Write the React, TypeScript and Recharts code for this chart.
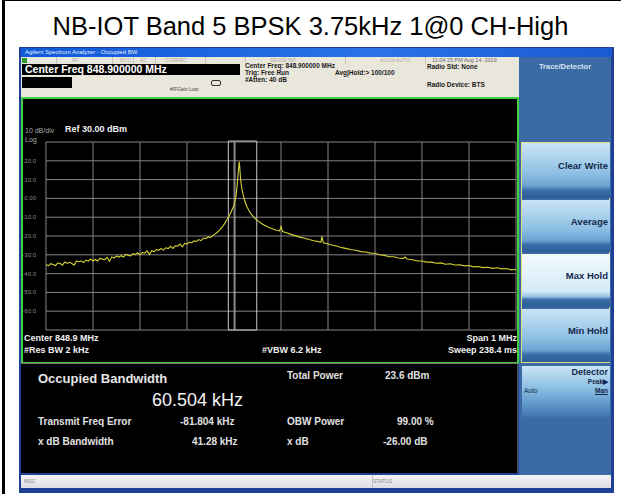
import React from 'react';
import {
  LineChart,
  Line,
  XAxis,
  YAxis,
  CartesianGrid,
  ReferenceArea,
  ReferenceLine,
} from 'recharts';

// Offset from the 848.9 MHz centre frequency, in kHz
const FREQ_KHZ = [
  -500, -495, -490, -485, -480, -475, -470, -465, -460, -455,
  -450, -445, -440, -435, -430, -425, -420, -415, -410, -405,
  -400, -395, -390, -385, -380, -375, -370, -365, -360, -355,
  -350, -345, -340, -335, -330, -325, -320, -315, -310, -305,
  -300, -295, -290, -285, -280, -275, -270, -265, -260, -255,
  -250, -245, -240, -235, -230, -225, -220, -215, -210, -205,
  -200, -195, -190, -185, -180, -175, -170, -165, -160, -155,
  -150, -145, -140, -135, -130, -125, -120, -115, -110, -105,
  -100, -97, -95, -93, -91, -90, -89, -88, -87, -86,
  -85, -83, -80, -77, -73, -68, -62, -55, -48, -40,
  -30, -20, -10, -3, 0, 3, 10, 20, 30, 40,
  50, 60, 70, 80, 85, 87, 90, 95, 100, 110,
  120, 130, 140, 150, 160, 170, 180, 190, 200, 210,
  220, 230, 240, 250, 260, 264, 268, 280, 290, 300,
  310, 320, 330, 340, 350, 360, 370, 380, 390, 400,
  410, 420, 430, 440, 450, 460, 470, 480, 490, 500,
];

// Trace level, dBm
const LEVEL_DBM = [
  -35.1, -35.9, -34.7, -35.2, -35.7, -34.4, -34.7, -35.5, -33.8, -34.6,
  -34.0, -34.6, -35.5, -33.3, -33.7, -33.2, -34.1, -32.8, -33.3, -32.3,
  -33.3, -32.5, -33.3, -31.8, -32.3, -32.6, -31.4, -33.5, -31.1, -31.7,
  -30.6, -31.2, -30.5, -31.2, -29.7, -30.3, -30.6, -29.4, -29.9, -28.9,
  -30.0, -28.8, -29.1, -27.9, -29.8, -27.8, -28.3, -27.2, -27.6, -26.6,
  -27.5, -26.3, -26.7, -25.5, -26.6, -25.2, -25.4, -24.3, -25.8, -23.9,
  -24.3, -23.2, -23.7, -22.6, -22.9, -21.9, -22.5, -21.1, -21.4, -20.5,
  -20.8, -19.8, -18.9, -17.9, -16.6, -15.2, -13.4, -11.4, -9.2, -6.6,
  -3.6, -0.6, 2.8, 7.8, 13.6, 16.8, 19.6, 17.2, 13.8, 10.6,
  8.3, 4.8, 1.4, -1.4, -4.2, -6.6, -8.8, -10.7, -12.2, -13.6,
  -14.9, -16.0, -16.9, -17.3, -15.0, -17.6, -18.1, -19.0, -19.8, -20.6,
  -21.2, -21.9, -22.5, -23.0, -23.2, -20.2, -23.6, -23.9, -24.3, -24.9,
  -25.5, -26.2, -26.7, -27.3, -27.6, -28.3, -28.5, -29.1, -29.2, -30.0,
  -30.3, -31.0, -31.0, -31.7, -31.9, -31.2, -32.2, -32.6, -33.3, -33.3,
  -33.9, -33.9, -34.5, -34.3, -35.0, -34.8, -35.4, -35.3, -35.9, -35.7,
  -36.4, -36.2, -36.8, -36.6, -37.2, -36.9, -37.5, -37.3, -38.0, -37.8,
];

const X_TICKS = [-500, -400, -300, -200, -100, 0, 100, 200, 300, 400, 500];
const Y_TICKS = [-70, -60, -50, -40, -30, -20, -10, 0, 10, 20, 30];
const Y_LABELS: Record<number, string> = {
  20: '20.0', 10: '10.0', 0: '0.00', [-10]: '-10.0', [-20]: '-20.0',
  [-30]: '-30.0', [-40]: '-40.0', [-50]: '-50.0', [-60]: '-60.0',
};

// occupied bandwidth box edges and x dB marker, kHz offset
const OBW_LEFT_KHZ = -112.1;
const OBW_RIGHT_KHZ = -51.6;
const XDB_MARK_KHZ = -98;

const TITLE = 'NB-IOT Band 5 BPSK 3.75kHz 1@0 CH-High';
const FONT = '"Liberation Sans", Arial, sans-serif';

const traceData = FREQ_KHZ.map((f, i) => ({ f, dbm: LEVEL_DBM[i] }));

const abs = (left: number, top: number, extra: React.CSSProperties = {}): React.CSSProperties => ({
  position: 'absolute',
  left,
  top,
  whiteSpace: 'nowrap',
  ...extra,
});

function SoftKey({ top, height, label, active }: { top: number; height: number; label: string; active?: boolean }) {
  const bg = active
    ? 'linear-gradient(#f2f9fe 0%, #d6ebf8 70%, #9cc6e6 80%, #3a6ea8 86%, #2b5c95 100%)'
    : 'linear-gradient(#cbe4f5 0%, #8ec0e4 55%, #6aa3d2 78%, #3a6ea8 86%, #2b5c95 100%)';
  return (
    <div style={abs(522, top, { width: 88, height, background: bg })}>
      <div
        style={{
          position: 'absolute',
          right: 2,
          top: height * 0.42 - 6,
          fontSize: 9.5,
          fontWeight: 'bold',
          color: '#13294b',
        }}
      >
        {label}
      </div>
    </div>
  );
}

const YTick = (props: any) => {
  const { x, y, payload } = props;
  const txt = Y_LABELS[payload.value] || '';
  return (
    <text x={x - 2} y={y + 2} textAnchor="end" fontSize={6} fill="#8c8c8c" fontFamily={FONT}>
      {txt}
    </text>
  );
};

const NoTick = () => <g />;

export default function App() {
  return (
    <div style={abs(0, 0, { width: 621, height: 494, background: '#fff', fontFamily: FONT, overflow: 'hidden' })}>
      {/* outer frame */}
      <div style={abs(2, 0, { width: 616, height: 493, borderLeft: '3px solid #000', borderRight: '2px solid #000', borderTop: '1px solid #000' })} />

      <div style={abs(0, 11, { width: 621, textAlign: 'center', fontSize: 25.5, color: '#000', lineHeight: '30px' })}>
        {TITLE}
      </div>

      {/* analyzer screenshot */}
      <div style={abs(19, 47, { width: 595, height: 446, background: '#1d3f95' })} />
      <div style={abs(21, 48, { width: 591, height: 9, background: 'linear-gradient(90deg, #1059d8, #2a72e6 60%, #1a5ad0)' })}>
        <span style={abs(4, 0, { fontSize: 6, color: '#e8f0ff', lineHeight: '9px' })}>
          Agilent Spectrum Analyzer - Occupied BW
        </span>
      </div>

      {/* indicator row and setup info */}
      <div style={abs(21, 57, { width: 498, height: 40, background: '#e9e6dc' })} />
      <div style={abs(22, 58, { width: 5, height: 5, background: '#2d9a2d' })} />
      {[
        ['RF', 72],
        ['50 Ω', 120],
        ['AC', 140],
        ['CORREC', 165],
        ['SENSE:INT', 270],
        ['ALIGN AUTO', 380],
      ].map(([t, x]) => (
        <span key={t as string} style={abs(x as number, 57, { fontSize: 5, color: '#b0aca0', lineHeight: '7px' })}>{t}</span>
      ))}
      {[56, 112, 133, 155, 205, 245, 345, 425].map((x) => (
        <div key={x} style={abs(x, 57, { width: 1, height: 7, background: '#c6c2b6' })} />
      ))}
      <span style={abs(432, 57, { fontSize: 5.5, color: '#6b6a64', lineHeight: '7px' })}>11:04:25 PM Aug 14, 2019</span>

      <div style={abs(22, 64, { width: 218, height: 11, background: '#000' })}>
        <span style={abs(3, -1, { fontSize: 10.5, fontWeight: 'bold', color: '#fff', lineHeight: '13px' })}>
          Center Freq 848.900000 MHz
        </span>
      </div>
      <div style={abs(22, 77, { width: 50, height: 11, background: '#000' })} />
      <span style={abs(170, 86, { fontSize: 5, color: '#444', lineHeight: '7px' })}>#IFGain:Low</span>
      <div style={abs(211, 80, { width: 8, height: 4, border: '1px solid #333', borderRadius: 2 })} />
      <div style={{ ...abs(245, 62, { fontSize: 6.5, fontWeight: 'bold', color: '#1b1b1b', lineHeight: '7px' }) }}>
        Center Freq: 848.900000 MHz
        <br />
        Trig: Free Run
        <br />
        #Atten: 40 dB
      </div>
      <span style={abs(335, 69, { fontSize: 6.5, fontWeight: 'bold', color: '#1b1b1b' })}>Avg|Hold:&gt; 100/100</span>
      <span style={abs(427, 63, { fontSize: 6.5, fontWeight: 'bold', color: '#1b1b1b' })}>Radio Std: None</span>
      <span style={abs(427, 81, { fontSize: 6.5, fontWeight: 'bold', color: '#1b1b1b' })}>Radio Device: BTS</span>

      {/* plot frame */}
      <div style={abs(21, 97, { width: 494, height: 263, background: '#000', border: '2px solid #3fcf3f' })} />
      <span style={abs(25, 127, { fontSize: 7, color: '#a8a8a8' })}>10 dB/div</span>
      <span style={abs(65, 124, { fontSize: 9, fontWeight: 'bold', color: '#f0f0f0' })}>Ref 30.00 dBm</span>
      <span style={abs(25, 136, { fontSize: 7, color: '#a8a8a8' })}>Log</span>

      <div style={abs(22, 137)}>
        <LineChart
          width={496}
          height={194}
          data={traceData}
          margin={{ top: 5, right: 2, bottom: 0, left: 0 }}
        >
          <CartesianGrid stroke="#858585" strokeWidth={1} />
          <XAxis
            type="number"
            dataKey="f"
            domain={[-500, 500]}
            ticks={X_TICKS}
            interval={0}
            tick={<NoTick />}
            axisLine={false}
            tickLine={false}
            height={1}
            allowDataOverflow
          />
          <YAxis
            type="number"
            domain={[-70, 30]}
            ticks={Y_TICKS}
            interval={0}
            tick={<YTick />}
            axisLine={false}
            tickLine={false}
            width={24}
            allowDataOverflow
          />
          <ReferenceArea
            x1={OBW_LEFT_KHZ}
            x2={OBW_RIGHT_KHZ}
            y1={-70}
            y2={30.5}
            fill="none"
            stroke="#c9c9c9"
            strokeWidth={1}
            ifOverflow="visible"
          />
          <ReferenceLine x={XDB_MARK_KHZ} stroke="#b5b5b5" strokeWidth={1} />
          <Line
            type="linear"
            dataKey="dbm"
            stroke="#d2d234"
            strokeWidth={1.1}
            dot={false}
            isAnimationActive={false}
          />
        </LineChart>
      </div>

      <span style={abs(24, 333, { fontSize: 9, fontWeight: 'bold', color: '#f0f0f0' })}>Center  848.9 MHz</span>
      <span style={abs(24, 345, { fontSize: 9, fontWeight: 'bold', color: '#f0f0f0' })}>#Res BW  2 kHz</span>
      <span style={abs(262, 345, { fontSize: 9, fontWeight: 'bold', color: '#f0f0f0' })}>#VBW  6.2 kHz</span>
      <span style={abs(0, 333, { left: undefined, right: 104, fontSize: 9, fontWeight: 'bold', color: '#f0f0f0' })}>Span 1 MHz</span>
      <span style={abs(0, 345, { left: undefined, right: 104, fontSize: 9, fontWeight: 'bold', color: '#f0f0f0' })}>Sweep  238.4 ms</span>

      {/* measurement results */}
      <div style={abs(21, 363, { width: 496, height: 109, background: '#000', borderTop: '1px solid #707070', borderRight: '1px solid #555' })} />
      <span style={abs(38, 371, { fontSize: 13, color: '#e6e6e6', fontWeight: 'bold' })}>Occupied Bandwidth</span>
      <span style={abs(152, 390, { fontSize: 18, color: '#f4f4f4' })}>60.504 kHz</span>
      <span style={abs(287, 370, { fontSize: 10, color: '#e0e0e0', fontWeight: 'bold' })}>Total Power</span>
      <span style={abs(385, 370, { fontSize: 10, color: '#e0e0e0', fontWeight: 'bold' })}>23.6 dBm</span>
      <span style={abs(38, 416, { fontSize: 10, color: '#e0e0e0', fontWeight: 'bold' })}>Transmit Freq Error</span>
      <span style={abs(180, 416, { fontSize: 10, color: '#e0e0e0', fontWeight: 'bold' })}>-81.804 kHz</span>
      <span style={abs(287, 416, { fontSize: 10, color: '#e0e0e0', fontWeight: 'bold' })}>OBW Power</span>
      <span style={abs(397, 416, { fontSize: 10, color: '#e0e0e0', fontWeight: 'bold' })}>99.00 %</span>
      <span style={abs(38, 436, { fontSize: 10, color: '#e0e0e0', fontWeight: 'bold' })}>x dB Bandwidth</span>
      <span style={abs(192, 436, { fontSize: 10, color: '#e0e0e0', fontWeight: 'bold' })}>41.28 kHz</span>
      <span style={abs(287, 436, { fontSize: 10, color: '#e0e0e0', fontWeight: 'bold' })}>x dB</span>
      <span style={abs(383, 436, { fontSize: 10, color: '#e0e0e0', fontWeight: 'bold' })}>-26.00 dB</span>

      {/* softkey panel */}
      <div style={abs(519, 57, { width: 92, height: 418, background: '#3b6aa4' })} />
      <span style={abs(519, 62, { width: 92, textAlign: 'center', fontSize: 7.5, fontWeight: 'bold', color: '#d6e4f2' })}>
        Trace/Detector
      </span>
      <div style={abs(521, 142, { width: 89, height: 221, border: '1px solid #e3dc84', boxSizing: 'border-box' })} />
      <SoftKey top={143} height={55} label="Clear Write" />
      <SoftKey top={200} height={52} label="Average" />
      <SoftKey top={254} height={53} label="Max Hold" active />
      <SoftKey top={309} height={53} label="Min Hold" />
      <div style={abs(522, 366, { width: 88, height: 54, background: 'linear-gradient(#cbe4f5 0%, #8ec0e4 40%, #5f99cb 70%, #3b6aa4 100%)' })}>
        <span style={{ position: 'absolute', right: 2, top: 1, fontSize: 9, fontWeight: 'bold', color: '#13294b' }}>Detector</span>
        <span style={{ position: 'absolute', right: 2, top: 12, fontSize: 6.5, fontWeight: 'bold', color: '#13294b' }}>Peak▶</span>
        <span style={{ position: 'absolute', left: 2, top: 21, fontSize: 6.5, color: '#13294b' }}>Auto</span>
        <span style={{ position: 'absolute', right: 2, top: 21, fontSize: 6.5, fontWeight: 'bold', color: '#13294b', textDecoration: 'underline' }}>Man</span>
      </div>

      {/* status bar */}
      <div style={abs(21, 475, { width: 590, height: 13, background: 'linear-gradient(#f4f4f6, #dedde2)' })}>
        <span style={abs(3, 3, { fontSize: 5, color: '#8a8a8a' })}>MSG</span>
        <span style={abs(352, 3, { fontSize: 5, color: '#8a8a8a' })}>STATUS</span>
      </div>
      <div style={abs(372, 475, { width: 1, height: 13, background: '#c4c4c4' })} />
    </div>
  );
}
